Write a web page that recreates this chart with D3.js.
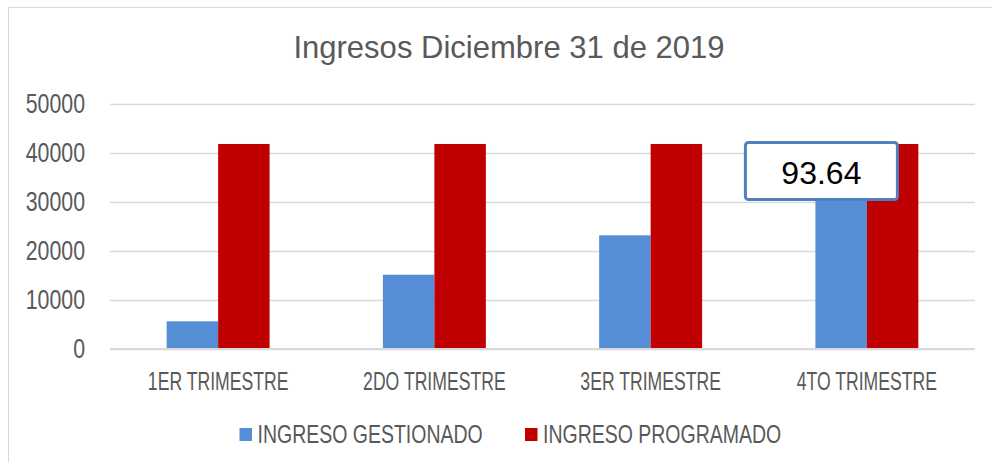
<!DOCTYPE html>
<html>
<head>
<meta charset="utf-8">
<script src="https://cdn.jsdelivr.net/npm/d3@7"></script>
<style>
  body { margin: 0; background: #fff; }
  svg { display: block; }
  text { font-family: "Liberation Sans", Arial, sans-serif; fill: #595959; }
</style>
</head>
<body>
<div id="grafico"></div>
<script>
// Datos
const categorias = ['1ER TRIMESTRE', '2DO TRIMESTRE', '3ER TRIMESTRE', '4TO TRIMESTRE']
const series = ['INGRESO GESTIONADO', 'INGRESO PROGRAMADO']
const gestionado = [5650, 15160, 23200, 39180]
const programado = [41840, 41840, 41840, 41840]
const ticksY = [0, 10000, 20000, 30000, 40000, 50000]
const titulo = 'Ingresos Diciembre 31 de 2019'
// etiqueta de datos del 4to trimestre
const etiquetaIndice = 3
const etiquetaTexto = '93.64'

const colores = ['#558ED5', '#C00000']
const W = 992, H = 462

let svg = d3.select('#grafico')
    .append('svg')
    .attr('width', W)
    .attr('height', H)

// borde del área del gráfico (solo se ven arriba e izquierda)
svg.append('rect')
    .attr('x', 8.5).attr('y', 7.5)
    .attr('width', 1000).attr('height', 500)
    .attr('fill', 'none')
    .attr('stroke', '#d9d9d9')

// escalas
let x0 = d3.scaleBand()
    .domain(categorias)
    .range([110, 975])
    .paddingInner(0.524)
    .paddingOuter(0.262)

let x1 = d3.scaleBand()
    .domain(series)
    .range([0, x0.bandwidth()])

let y = d3.scaleLinear()
    .domain([0, 50000])
    .range([349, 104])

// eje Y con líneas de cuadrícula
let ejeY = svg.append('g')
    .attr('transform', 'translate(110,0)')
    .call(d3.axisLeft(y).tickValues(ticksY).tickSize(-865).tickPadding(25).tickFormat(d3.format('d')))
ejeY.select('.domain').remove()
ejeY.selectAll('line').attr('stroke', '#d9d9d9').attr('stroke-width', 1.5)
// texto estrecho: se escala en x (y se corrige la posición)
ejeY.selectAll('text')
    .style('font-size', '27px')
    .attr('fill', '#595959')
    .attr('x', -25 / 0.79)
    .attr('transform', 'scale(0.79,1)')

// eje X
let ejeX = svg.append('g')
    .attr('transform', 'translate(0,349)')
    .call(d3.axisBottom(x0).tickSize(0).tickPadding(23))
ejeX.select('.domain').remove()
ejeX.selectAll('text')
    .style('font-size', '25px')
    .attr('fill', '#595959')
    .attr('transform', 'scale(0.705,1)')

// barras
let filas = categorias.map((c, i) => ({cat: c, valores: [gestionado[i], programado[i]]}))

let grupos = svg.append('g')
    .selectAll('g')
    .data(filas)
    .join('g')
    .attr('transform', d => 'translate(' + x0(d.cat) + ',0)')

grupos.selectAll('rect')
    .data(d => d.valores.map((v, j) => ({serie: series[j], valor: v, j: j})))
    .join('rect')
    .attr('x', d => x1(d.serie))
    .attr('y', d => y(d.valor))
    .attr('width', x1.bandwidth())
    .attr('height', d => y(0) - y(d.valor))
    .attr('fill', d => colores[d.j])

// línea base
svg.append('line')
    .attr('x1', 110).attr('x2', 975)
    .attr('y1', y(0)).attr('y2', y(0))
    .attr('stroke', '#d9d9d9').attr('stroke-width', 2)

// cuadro de la etiqueta
let bx = x0(categorias[etiquetaIndice]) + x1(series[0]) - 70
let by = y(programado[etiquetaIndice]) - 1.5
svg.append('rect')
    .attr('x', bx).attr('y', by)
    .attr('width', 152).attr('height', 57)
    .attr('rx', 3)
    .attr('fill', '#fff')
    .attr('stroke', '#4F81BD')
    .attr('stroke-width', 3)
svg.append('text')
    .attr('x', bx + 76).attr('y', by + 42)
    .attr('text-anchor', 'middle')
    .style('font-size', '32px')
    .style('fill', '#000')
    .text(etiquetaTexto)

// título
svg.append('text')
    .attr('transform', 'translate(509,58) scale(0.97,1)')
    .attr('text-anchor', 'middle')
    .style('font-size', '32px')
    .text(titulo)

// leyenda
let leyX = [239.5, 525]
let leyenda = svg.append('g')
    .selectAll('g')
    .data(series)
    .join('g')
    .attr('transform', (d, i) => 'translate(' + leyX[i] + ',428)')
leyenda.append('rect')
    .attr('width', 12.5).attr('height', 13)
    .attr('fill', (d, i) => colores[i])
leyenda.append('text')
    .attr('transform', 'translate(18,15) scale(0.78,1)')
    .style('font-size', '25px')
    .text(d => d)
</script>
</body>
</html>
